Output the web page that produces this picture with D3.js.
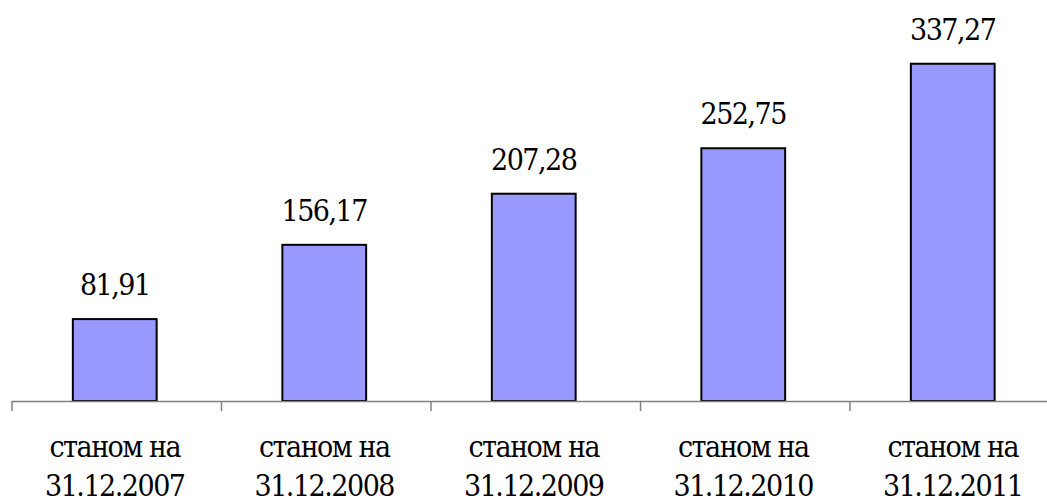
<!DOCTYPE html>
<html>
<head>
<meta charset="utf-8">
<script src="https://cdn.jsdelivr.net/npm/d3@7"></script>
<style>
  body { margin: 0; background: #fff; }
  svg text { font-family: "DejaVu Serif Condensed", "DejaVu Serif", serif; font-stretch: condensed; }
</style>
</head>
<body>
<svg></svg>
<script>
// data
var years = ["31.12.2007", "31.12.2008", "31.12.2009", "31.12.2010", "31.12.2011"];
var values = [81.91, 156.17, 207.28, 252.75, 337.27];
var valueLabels = ["81,91", "156,17", "207,28", "252,75", "337,27"];
var prefix = "станом на";

var svgWidth = 1047, svgHeight = 501;
var axisY = 401;

var svg = d3.select("svg")
  .attr("width", svgWidth)
  .attr("height", svgHeight);

// scales
var xScale = d3.scaleBand()
  .domain(years)
  .range([10, 1057.5])
  .paddingInner(0.6)
  .paddingOuter(0.3);

var yScale = d3.scaleLinear()
  .domain([0, 400])
  .range([axisY, 1]);

// bars
svg.selectAll("rect.bar")
  .data(values)
  .enter()
  .append("rect")
  .attr("class", "bar")
  .attr("x", function(d, i) { return xScale(years[i]); })
  .attr("y", function(d) { return yScale(d); })
  .attr("width", xScale.bandwidth())
  .attr("height", function(d) { return axisY - yScale(d); })
  .attr("fill", "#9999ff")
  .attr("stroke", "#000")
  .attr("stroke-width", 2);

// value labels
svg.selectAll("text.val")
  .data(values)
  .enter()
  .append("text")
  .attr("class", "val")
  .attr("x", function(d, i) { return xScale(years[i]) + xScale.bandwidth() / 2; })
  .attr("y", function(d) { return yScale(d) - 24; })
  .attr("text-anchor", "middle")
  .attr("font-size", 30)
  .attr("letter-spacing", -1.5)
  .text(function(d, i) { return valueLabels[i]; });

// x axis: ticks sit on the band edges
var step = xScale.step();
var start = xScale.range()[0] + 2;
var axis = svg.append("g");
axis.append("line")
  .attr("x1", start).attr("x2", svgWidth)
  .attr("y1", axisY + 0.5).attr("y2", axisY + 0.5)
  .attr("stroke", "#808080").attr("stroke-width", 1.5);
axis.selectAll("line.tick")
  .data(years)
  .enter()
  .append("line")
  .attr("class", "tick")
  .attr("x1", function(d, i) { return start + step * i; })
  .attr("x2", function(d, i) { return start + step * i; })
  .attr("y1", axisY).attr("y2", axisY + 10)
  .attr("stroke", "#808080").attr("stroke-width", 1.5);

// category labels (two lines)
var cat = axis.selectAll("text.cat")
  .data(years)
  .enter()
  .append("text")
  .attr("class", "cat")
  .attr("text-anchor", "middle")
  .attr("font-size", 30)
  .attr("letter-spacing", -1.5)
  .attr("x", function(d) { return xScale(d) + xScale.bandwidth() / 2; });
cat.append("tspan")
  .attr("x", function(d) { return xScale(d) + xScale.bandwidth() / 2; })
  .attr("y", 457)
  .text(prefix);
cat.append("tspan")
  .attr("x", function(d) { return xScale(d) + xScale.bandwidth() / 2; })
  .attr("y", 496)
  .text(function(d) { return d; });
</script>
</body>
</html>
